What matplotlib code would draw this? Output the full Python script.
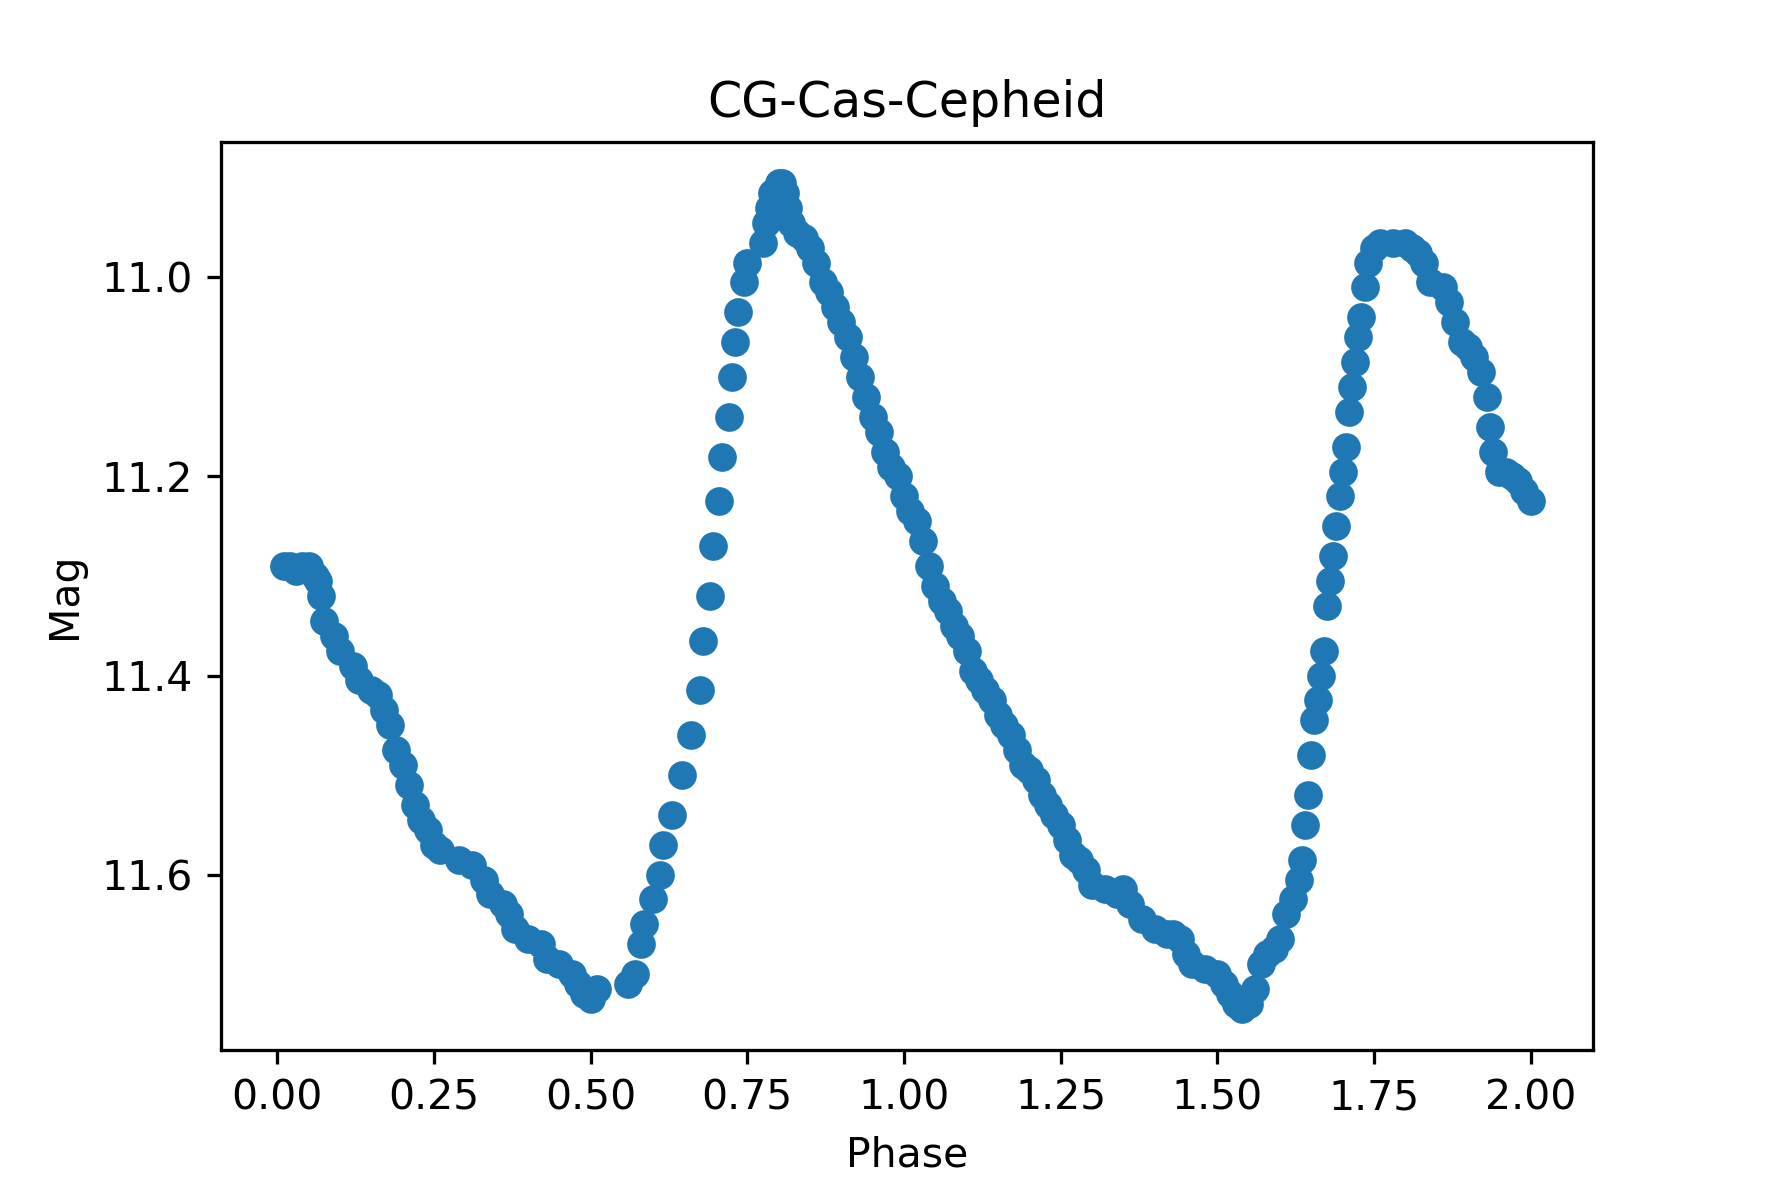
import matplotlib
matplotlib.use("Agg")
import matplotlib.pyplot as plt

phase = [0.01, 0.02, 0.03, 0.04, 0.05, 0.06, 0.065, 0.07, 0.075, 0.09, 0.10, 0.12, 0.13, 0.15, 0.16,
         0.17, 0.18, 0.19, 0.20, 0.21, 0.22, 0.23, 0.24, 0.25, 0.26, 0.29, 0.31, 0.33, 0.34, 0.36,
         0.37, 0.38, 0.40, 0.42, 0.43, 0.45, 0.47, 0.48, 0.49, 0.50, 0.51,
         0.56, 0.57, 0.58, 0.585, 0.60, 0.61, 0.615, 0.63, 0.645, 0.66, 0.675, 0.68, 0.69, 0.695,
         0.705, 0.71, 0.72, 0.725, 0.73, 0.735, 0.745, 0.75, 0.775, 0.78, 0.785, 0.79, 0.80, 0.805,
         0.81, 0.815, 0.82, 0.83, 0.84, 0.85, 0.86, 0.87, 0.88, 0.89, 0.90, 0.91, 0.92, 0.93, 0.94,
         0.95, 0.96, 0.97, 0.98, 0.99, 1.00, 1.01, 1.02, 1.03, 1.04, 1.05, 1.06, 1.07, 1.08, 1.09,
         1.10, 1.11, 1.12, 1.13, 1.14, 1.15, 1.16, 1.17, 1.18, 1.19, 1.20, 1.21, 1.22, 1.23, 1.24,
         1.25, 1.26, 1.27, 1.28, 1.29, 1.30, 1.32, 1.34, 1.35, 1.36, 1.38, 1.40, 1.42, 1.43, 1.44,
         1.45, 1.46, 1.48, 1.50, 1.51, 1.52, 1.53, 1.54, 1.55, 1.56, 1.57, 1.58, 1.59, 1.60, 1.61,
         1.62, 1.63, 1.635, 1.64, 1.645, 1.65, 1.655, 1.66, 1.665, 1.67, 1.675, 1.68, 1.685, 1.69,
         1.695, 1.70, 1.705, 1.71, 1.715, 1.72, 1.725, 1.73, 1.735, 1.74, 1.75, 1.76, 1.78, 1.80,
         1.81, 1.82, 1.83, 1.84, 1.86, 1.87, 1.88, 1.89, 1.90, 1.91, 1.92, 1.93, 1.935, 1.94, 1.95,
         1.96, 1.97, 1.98, 1.99, 2.00]
mag = [11.29, 11.29, 11.295, 11.29, 11.29, 11.30, 11.305, 11.32, 11.345, 11.36, 11.375, 11.39, 11.405, 11.415, 11.42,
       11.435, 11.45, 11.475, 11.49, 11.51, 11.53, 11.545, 11.555, 11.57, 11.575, 11.585, 11.59, 11.605, 11.62, 11.63,
       11.64, 11.655, 11.665, 11.67, 11.685, 11.69, 11.70, 11.71, 11.72, 11.725, 11.715,
       11.71, 11.70, 11.67, 11.65, 11.625, 11.60, 11.57, 11.54, 11.50, 11.46, 11.415, 11.365, 11.32, 11.27,
       11.225, 11.18, 11.14, 11.10, 11.065, 11.035, 11.005, 10.985, 10.965, 10.945, 10.93, 10.915, 10.905, 10.905,
       10.915, 10.93, 10.945, 10.955, 10.96, 10.97, 10.985, 11.005, 11.015, 11.03, 11.045, 11.06, 11.08, 11.10, 11.12,
       11.14, 11.155, 11.175, 11.19, 11.20, 11.22, 11.235, 11.245, 11.265, 11.29, 11.31, 11.325, 11.335, 11.35, 11.36,
       11.375, 11.395, 11.405, 11.415, 11.425, 11.44, 11.45, 11.46, 11.475, 11.49, 11.495, 11.505, 11.52, 11.53, 11.54,
       11.55, 11.565, 11.58, 11.585, 11.595, 11.61, 11.615, 11.62, 11.615, 11.63, 11.645, 11.655, 11.66, 11.66, 11.665,
       11.68, 11.69, 11.695, 11.70, 11.71, 11.72, 11.73, 11.735, 11.73, 11.715, 11.69, 11.68, 11.675, 11.665, 11.64,
       11.625, 11.605, 11.585, 11.55, 11.52, 11.48, 11.445, 11.425, 11.40, 11.375, 11.33, 11.305, 11.28, 11.25,
       11.22, 11.195, 11.17, 11.135, 11.11, 11.085, 11.06, 11.04, 11.01, 10.985, 10.97, 10.965, 10.965, 10.965,
       10.97, 10.975, 10.985, 11.005, 11.01, 11.025, 11.045, 11.065, 11.07, 11.08, 11.095, 11.12, 11.15, 11.175, 11.195,
       11.195, 11.20, 11.205, 11.215, 11.225]

fig, ax = plt.subplots(figsize=(6, 4), dpi=295)
ax.plot(phase, mag, 'o', color='#1f77b4', markersize=6)
ax.invert_yaxis()
ax.set_yticks([11.0, 11.2, 11.4, 11.6])
ax.set_xlabel('Phase')
ax.set_ylabel('Mag')
ax.set_title('CG-Cas-Cepheid')
fig.savefig('out.png')
